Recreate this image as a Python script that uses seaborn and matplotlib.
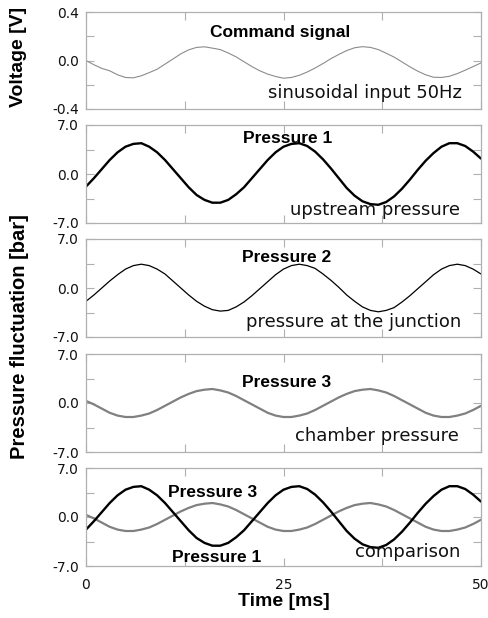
import matplotlib
matplotlib.use("Agg")
import matplotlib.pyplot as plt
import seaborn as sns
import pandas as pd
from matplotlib.ticker import FixedLocator, NullFormatter

# ---- data -------------------------------------------------------------
time_ms = list(range(0, 51))

command_v = [0.000, -0.035, -0.065, -0.085, -0.118, -0.140, -0.143, -0.126, -0.100, -0.072,
             -0.030, 0.012, 0.055, 0.088, 0.108, 0.113, 0.102, 0.090, 0.062, 0.030,
             -0.010, -0.050, -0.085, -0.112, -0.132, -0.146, -0.140, -0.122, -0.095, -0.062,
             -0.025, 0.015, 0.050, 0.082, 0.105, 0.114, 0.108, 0.090, 0.060, 0.028,
             -0.012, -0.052, -0.088, -0.118, -0.138, -0.140, -0.130, -0.108, -0.080, -0.050,
             -0.020]

pressure_1 = [-1.8, -0.6, 0.7, 2.0, 3.1, 3.9, 4.3, 4.4, 3.9, 3.1,
              2.0, 0.7, -0.6, -1.9, -3.0, -3.7, -4.1, -4.1, -3.7, -2.9,
              -1.9, -0.6, 0.7, 2.0, 3.1, 3.9, 4.3, 4.4, 4.0, 3.2,
              2.1, 0.8, -0.6, -2.0, -3.1, -3.9, -4.3, -4.4, -4.0, -3.2,
              -2.1, -0.8, 0.6, 1.9, 3.0, 3.9, 4.4, 4.4, 4.0, 3.2,
              2.2]

pressure_2 = [-1.9, -1.0, 0.0, 1.0, 1.9, 2.7, 3.2, 3.4, 3.2, 2.7,
              2.0, 1.0, 0.0, -1.0, -1.9, -2.6, -3.1, -3.3, -3.2, -2.7,
              -2.0, -1.1, -0.1, 0.9, 1.9, 2.7, 3.2, 3.4, 3.2, 2.8,
              2.0, 1.1, 0.1, -1.0, -1.9, -2.7, -3.2, -3.4, -3.2, -2.8,
              -2.0, -1.1, -0.1, 0.9, 1.9, 2.7, 3.2, 3.4, 3.2, 2.7,
              2.0]

pressure_3 = [0.3, -0.2, -0.8, -1.4, -1.8, -2.0, -2.0, -1.8, -1.5, -1.0,
              -0.4, 0.2, 0.8, 1.3, 1.7, 1.9, 2.0, 1.8, 1.5, 1.0,
              0.4, -0.2, -0.8, -1.4, -1.8, -2.0, -2.0, -1.8, -1.5, -1.0,
              -0.4, 0.2, 0.8, 1.3, 1.7, 1.9, 2.0, 1.8, 1.5, 1.0,
              0.4, -0.2, -0.8, -1.4, -1.8, -2.0, -2.0, -1.8, -1.5, -1.0,
              -0.4]

x_ticks = [0, 25, 50]
x_minor = [12.5, 37.5]
v_ticks = [-0.4, 0.0, 0.4]
p_ticks = [-7.0, 0.0, 7.0]

df = pd.DataFrame({"t": time_ms, "cmd": command_v, "p1": pressure_1,
                   "p2": pressure_2, "p3": pressure_3})

# ---- style ------------------------------------------------------------
sns.set_style("white")
plt.rcParams["font.family"] = ["DejaVu Sans"]
plt.rcParams["text.color"] = "black"
plt.rcParams["axes.labelcolor"] = "black"

SPINE = "#b0b0b0"
BLACK = "#000000"
GREY = "#808080"
CMD_GREY = "#8c8c8c"

fig = plt.figure(figsize=(4.89, 6.18), dpi=100)
W, H = 489.0, 618.0
left_px, right_px = 86, 481
panels_px = [(12, 109), (125, 223), (239, 337), (354, 452), (468, 566)]

axes = []
for top, bot in panels_px:
    ax = fig.add_axes([left_px / W, 1 - bot / H, (right_px - left_px) / W, (bot - top) / H])
    axes.append(ax)


def style_axis(ax, yt, last):
    ax.set_xlim(0, 50)
    ax.set_ylim(yt[0], yt[-1])
    for s in ax.spines.values():
        s.set_color(SPINE)
        s.set_linewidth(0.9)
        s.set_visible(True)
    ax.xaxis.set_major_locator(FixedLocator(x_ticks))
    ax.xaxis.set_minor_locator(FixedLocator(x_minor))
    ax.yaxis.set_major_locator(FixedLocator(yt))
    ax.yaxis.set_minor_locator(FixedLocator([yt[0] / 2, yt[-1] / 2]))
    ax.set_yticklabels([f"{v:.1f}" for v in yt])
    ax.tick_params(which="both", direction="in", length=6, width=0.8, color=SPINE,
                   top=True, right=True, bottom=True, left=True,
                   labelsize=10, labelcolor="#111111")
    ax.tick_params(axis="y", pad=5)
    if last:
        ax.set_xticklabels([str(v) for v in x_ticks])
        ax.tick_params(axis="x", pad=8.5)
    else:
        ax.xaxis.set_major_formatter(NullFormatter())
    ax.set_xlabel("")
    ax.set_ylabel("")


def draw(ax, col, color, lw):
    sns.lineplot(data=df, x="t", y=col, ax=ax, color=color, linewidth=lw,
                 estimator=None, sort=True)


draw(axes[0], "cmd", CMD_GREY, 0.8)
draw(axes[1], "p1", BLACK, 1.7)
draw(axes[2], "p2", BLACK, 0.9)
draw(axes[3], "p3", GREY, 1.6)
draw(axes[4], "p3", GREY, 1.6)
draw(axes[4], "p1", BLACK, 1.7)

for i, ax in enumerate(axes):
    style_axis(ax, v_ticks if i == 0 else p_ticks, i == len(axes) - 1)

title_kw = dict(family=["Liberation Sans", "DejaVu Sans"], fontweight="bold",
                fontsize=12.5, va="baseline", color="black")
note_kw = dict(family=["DejaVu Sans"], fontsize=13, ha="right", va="baseline",
               color="#111111")

a0, a1, a2, a3, a4 = axes
a0.text(0.491, 0.739, "Command signal", transform=a0.transAxes, ha="center", **title_kw)
a0.text(0.952, 0.110, "sinusoidal input 50Hz", transform=a0.transAxes, **note_kw)
a1.text(0.397, 0.819, "Pressure 1", transform=a1.transAxes, ha="left", **title_kw)
a1.text(0.947, 0.082, "upstream pressure", transform=a1.transAxes, **note_kw)
a2.text(0.394, 0.762, "Pressure 2", transform=a2.transAxes, ha="left", **title_kw)
a2.text(0.949, 0.099, "pressure at the junction", transform=a2.transAxes, **note_kw)
a3.text(0.394, 0.666, "Pressure 3", transform=a3.transAxes, ha="left", **title_kw)
a3.text(0.945, 0.115, "chamber pressure", transform=a3.transAxes, **note_kw)
a4.text(0.208, 0.707, "Pressure 3", transform=a4.transAxes, ha="left", **title_kw)
a4.text(0.218, 0.044, "Pressure 1", transform=a4.transAxes, ha="left", **title_kw)
a4.text(0.949, 0.089, "comparison", transform=a4.transAxes, **note_kw)

label_kw = dict(family=["Liberation Sans", "DejaVu Sans"], fontweight="bold", color="black")
fig.text(19 / W, 1 - 57 / H, "Voltage [V]", rotation=90, ha="center", va="center",
         fontsize=14, **label_kw)
fig.text(19.5 / W, 1 - 337 / H, "Pressure fluctuation [bar]", rotation=90,
         ha="center", va="center", fontsize=14.5, **label_kw)
fig.text(283.5 / W, 1 - 601 / H, "Time [ms]", ha="center", va="center",
         fontsize=14, **label_kw)

fig.savefig("out.png", dpi=100, facecolor="white")
